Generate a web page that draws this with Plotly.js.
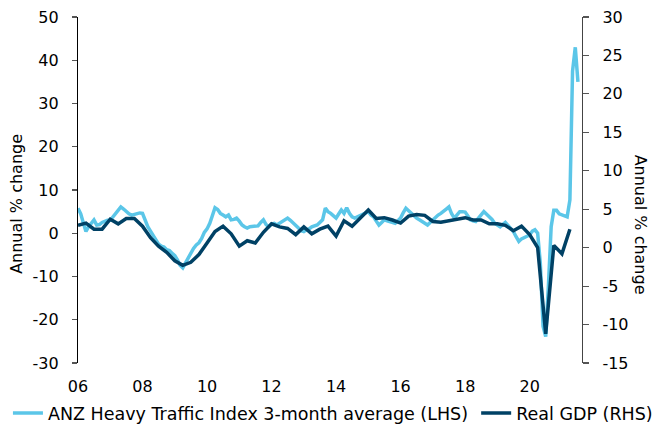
<!DOCTYPE html>
<html>
<head>
<meta charset="utf-8">
<script src="https://cdn.plot.ly/plotly-3.0.1.min.js"></script>
<style>html,body{margin:0;padding:0;background:#fff;}#chart{width:657px;height:430px;}</style>
</head>
<body>
<div id="chart"></div>
<script>
// ANZ Heavy Traffic Index, 3-month average, annual % change (monthly, Jan 2006 - Jul 2021)
const trafficStart = [2006, 1];
const trafficValues = [
  5.8, 4.5, 2.5, 0.4, 1.5, 2.2, 3.1, 1.9, 2.0, 2.5, 2.8, 3.0,
  3.0, 3.8, 4.5, 5.3, 6.1, 5.6, 5.0, 4.5, 4.2, 4.4, 4.6, 4.7,
  4.6, 3.0, 1.5, 0.5, -0.4, -1.5, -2.5, -3.0, -3.2, -3.8, -4.0, -4.6,
  -5.2, -6.2, -7.4, -8.0, -6.8, -6.0, -4.8, -3.5, -2.7, -2.2, -1.2, 0.2,
  1.0, 2.3, 4.0, 5.9, 5.5, 4.6, 4.2, 3.8, 4.2, 3.1, 3.2, 3.5,
  2.8, 1.9, 1.5, 1.2, 1.5, 1.5, 1.6, 1.7, 2.5, 3.1, 2.0, 1.5,
  2.1, 2.3, 1.9, 2.3, 2.7, 3.2, 3.5, 3.0, 2.3, 1.6, 1.2, 0.6,
  0.4, 0.8, 1.0, 1.5, 1.7, 1.9, 2.5, 3.1, 5.8, 5.0, 4.6, 4.0,
  3.5, 4.5, 5.4, 4.6, 5.9, 4.6, 3.8, 3.5, 3.8, 4.2, 4.6, 4.8,
  5.0, 4.2, 3.8, 2.8, 1.9, 2.5, 3.1, 2.9, 2.7, 2.5, 2.3, 2.9,
  3.5, 4.8, 5.8, 5.2, 4.6, 4.0, 3.5, 3.1, 2.7, 2.2, 1.9, 2.5,
  3.1, 3.8, 4.2, 4.6, 5.2, 5.6, 6.1, 4.5, 3.5, 4.3, 5.0, 5.0,
  4.9, 4.0, 3.1, 2.9, 2.7, 3.5, 4.3, 5.0, 4.4, 3.8, 3.2, 2.3,
  1.9, 1.5, 2.0, 2.5, 1.8, 1.2, 0.4, -0.8, -1.9, -1.3, -1.0, -0.6,
  -0.4, 0.5, 0.8, 0.0, -6.9, -21.5, -23.9, -12.0, 1.5, 5.3, 5.3, 4.5,
  4.2, 4.0, 3.8, 7.7, 37.5, 43.0, 35.0
];

// Real GDP, annual % change (quarterly, Dec 2005 - Mar 2021)
const gdpStart = [2006, 1];
const gdpValues = [
  2.9, 3.2, 2.4, 2.4, 3.7, 3.1, 3.8, 3.8, 2.8, 1.3, 0.2, -0.6,
  -1.7, -2.3, -1.9, -0.9, 0.6, 2.1, 2.8, 1.8, 0.2, 0.9, 0.6, 2.0,
  3.1, 2.7, 2.5, 1.7, 2.7, 1.8, 2.4, 2.8, 1.5, 3.5, 2.8, 3.8,
  4.9, 3.8, 3.9, 3.6, 3.2, 4.1, 4.3, 4.2, 3.4, 3.3, 3.5, 3.6,
  3.9, 3.6, 3.6, 3.1, 3.1, 2.9, 2.2, 2.8, 1.7, 0.0, -11.2, 0.3,
  -0.8, 2.4
];

const xTickVals = ['2006-01-01','2008-01-01','2010-01-01','2012-01-01','2014-01-01','2016-01-01','2018-01-01','2020-01-01'];
const xTickText = ['06','08','10','12','14','16','18','20'];
const leftTickVals = [-30, -20, -10, 0, 10, 20, 30, 40, 50];
const leftTickText = ['-30','-20','-10','0','10','20','30','40','50'];
const rightTickVals = [-15, -10, -5, 0, 5, 10, 15, 20, 25, 30];
const rightTickText = ['-15','-10','-5','0','5','10','15','20','25','30'];

const seriesNames = ['ANZ Heavy Traffic Index 3-month average (LHS)', 'Real GDP (RHS)'];

function monthDates(start, n, step) {
  const out = [];
  for (let i = 0; i < n; i++) {
    const t = (start[0] * 12 + (start[1] - 1)) + i * step;
    const y = Math.floor(t / 12), m = t % 12 + 1;
    out.push(y + '-' + String(m).padStart(2, '0') + '-01');
  }
  return out;
}

const trafficDates = monthDates(trafficStart, trafficValues.length, 1);
const gdpDates = monthDates(gdpStart, gdpValues.length, 3);

const FONT = 'DejaVu Sans, Verdana, sans-serif';
const xRange = ['2006-01-01', '2021-08-16'];

const traces = [
  {
    x: trafficDates, y: trafficValues, name: seriesNames[0],
    type: 'scatter', mode: 'lines', xaxis: 'x', yaxis: 'y', legend: 'legend',
    line: {color: '#5BC6E8', width: 3.5}
  },
  {
    x: gdpDates, y: gdpValues, name: seriesNames[1],
    type: 'scatter', mode: 'lines', xaxis: 'x', yaxis: 'y2', legend: 'legend2',
    line: {color: '#004165', width: 3.5}
  }
];

const legendCommon = {
  orientation: 'h', xanchor: 'left', yanchor: 'middle', y: -0.145,
  font: {family: FONT, size: 17.5, color: '#000'},
  bgcolor: 'rgba(0,0,0,0)', itemwidth: 30
};

const layout = {
  width: 657, height: 430,
  margin: {l: 78, r: 75, t: 17, b: 67, autoexpand: false},
  paper_bgcolor: '#fff', plot_bgcolor: '#fff',
  font: {family: FONT, size: 16, color: '#000'},
  showlegend: true,
  legend: Object.assign({}, legendCommon, {x: -0.139}),
  legend2: Object.assign({}, legendCommon, {x: 0.790}),
  xaxis: {
    type: 'date', range: xRange,
    tickvals: xTickVals, ticktext: xTickText,
    showline: false, showgrid: false, zeroline: false,
    ticks: 'outside', ticklen: 0, tickcolor: 'rgba(0,0,0,0)',
    ticklabelstandoff: 9,
    tickfont: {family: FONT, size: 16, color: '#000'}
  },
  xaxis2: {
    type: 'date', range: xRange, overlaying: 'x',
    anchor: 'free', position: 0.375, side: 'bottom',
    tickvals: xTickVals, showticklabels: false,
    showline: true, linecolor: '#808080', linewidth: 1.5,
    ticks: 'outside', ticklen: 6, tickcolor: '#808080', tickwidth: 1.5,
    showgrid: false, zeroline: false
  },
  yaxis: {
    range: [-30, 50], tickvals: leftTickVals, ticktext: leftTickText,
    showline: true, linecolor: '#000', linewidth: 1.2,
    ticks: 'outside', ticklen: 5, tickcolor: '#555', tickwidth: 1.2,
    showgrid: false, zeroline: false, ticklabelstandoff: 10,
    tickfont: {family: FONT, size: 16, color: '#000'}
  },
  yaxis2: {
    range: [-15, 30], tickvals: rightTickVals, ticktext: rightTickText,
    overlaying: 'y', side: 'right',
    showline: true, linecolor: '#444', linewidth: 1.2,
    ticks: 'outside', ticklen: 6, tickcolor: '#555', tickwidth: 1.2,
    showgrid: false, zeroline: false, ticklabelstandoff: 10,
    tickfont: {family: FONT, size: 16, color: '#000'}
  },
  annotations: [
    {
      text: 'Annual % change', xref: 'paper', yref: 'paper',
      x: -0.121, y: 0.46, textangle: -90, showarrow: false,
      xanchor: 'center', yanchor: 'middle',
      font: {family: FONT, size: 16, color: '#000'}
    },
    {
      text: 'Annual % change', xref: 'paper', yref: 'paper',
      x: 1.115, y: 0.40, textangle: 90, showarrow: false,
      xanchor: 'center', yanchor: 'middle',
      font: {family: FONT, size: 16, color: '#000'}
    }
  ]
};

Plotly.newPlot('chart', traces, layout, {displayModeBar: false, staticPlot: true});
</script>
</body>
</html>
